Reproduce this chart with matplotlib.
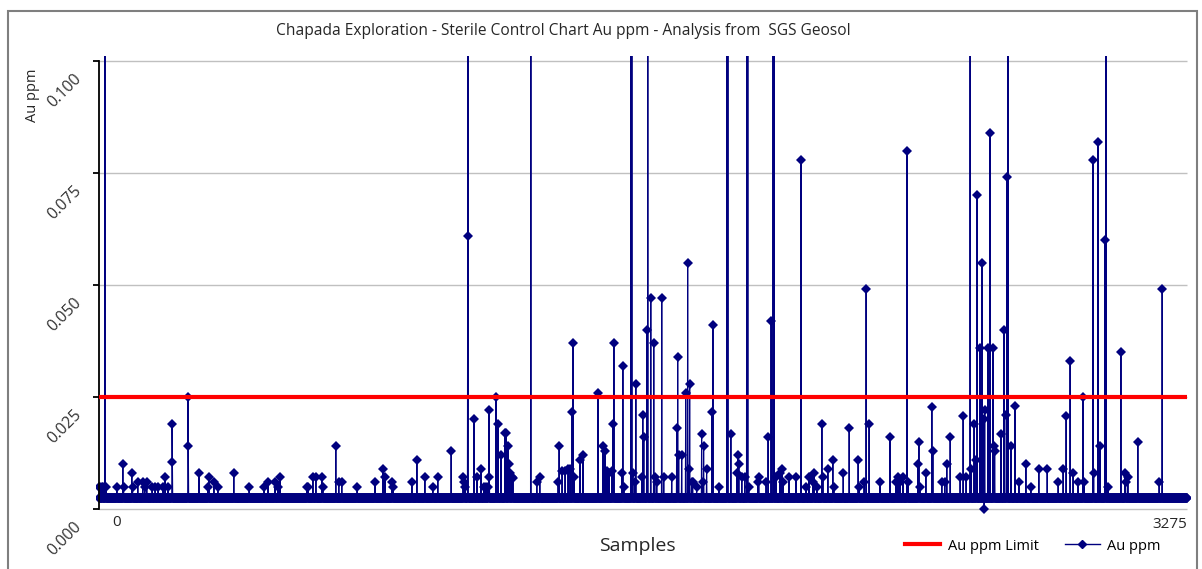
import numpy as np
import matplotlib.pyplot as plt
from matplotlib import transforms
from matplotlib.lines import Line2D
from matplotlib.patches import Rectangle

plt.rcParams['font.family'] = ['Open Sans', 'DejaVu Sans']

# data
n_samples = 3276
base_au = 0.0025          # most blanks sit at this level
limit_au = 0.025          # control limit

spike_idx = [
    1, 4, 8, 12, 18, 22, 54, 72, 74, 99, 101, 117, 132, 138, 144, 160, 169, 178,
    193, 199, 208, 220, 221, 268, 269, 301, 328, 331, 346, 358, 406, 452, 497,
    509, 530, 539, 545, 626, 629, 644, 653, 671, 674, 713, 722, 731, 777, 831,
    855, 861, 882, 885, 942, 957, 981, 1005, 1020, 1060, 1096, 1099, 1102,
    1110, 1111, 1129, 1138, 1150, 1159, 1165, 1171, 1174, 1175, 1195, 1201,
    1210, 1222, 1225, 1231, 1234, 1237, 1243, 1246, 1300, 1318, 1327, 1382,
    1385, 1394, 1403, 1412, 1418, 1424, 1427, 1430, 1448, 1457, 1502, 1517,
    1523, 1529, 1535, 1544, 1547, 1550, 1574, 1577, 1580, 1601, 1604, 1607,
    1613, 1616, 1634, 1637, 1640, 1649, 1652, 1661, 1670, 1673, 1679, 1694,
    1700, 1724, 1739, 1742, 1745, 1754, 1766, 1772, 1775, 1778, 1784, 1787,
    1799, 1814, 1817, 1820, 1829, 1845, 1848, 1866, 1890, 1893, 1902, 1920,
    1923, 1926, 1935, 1944, 1950, 1953, 1956, 1983, 1986, 2008, 2014, 2023,
    2029, 2032, 2038, 2050, 2056, 2059, 2077, 2098, 2113, 2128, 2137, 2149,
    2152, 2161, 2176, 2179, 2194, 2209, 2212, 2240, 2258, 2285, 2288, 2303,
    2309, 2318, 2351, 2381, 2399, 2405, 2411, 2420, 2432, 2435, 2465, 2468,
    2471, 2489, 2507, 2510, 2537, 2546, 2552, 2562, 2592, 2601, 2610, 2622,
    2625, 2634, 2640, 2643, 2652, 2658, 2663, 2664, 2666, 2676, 2682, 2691,
    2694, 2696, 2715, 2724, 2731, 2733, 2736, 2745, 2757, 2769, 2790, 2805,
    2829, 2854, 2887, 2902, 2911, 2923, 2932, 2947, 2962, 2965, 2992, 2994,
    3007, 3013, 3028, 3031, 3037, 3076, 3088, 3090, 3097, 3127, 3191, 3200,
]
spike_au = [
    0.005, 0.005, 0.005, 0.005, 0.15, 0.005, 0.005, 0.010, 0.005, 0.008, 0.005, 0.006, 0.006, 0.005, 0.006, 0.005, 0.005, 0.005,
    0.005, 0.0072, 0.005, 0.019, 0.0105, 0.025, 0.014, 0.008, 0.005, 0.0072, 0.006, 0.005, 0.008, 0.005, 0.005,
    0.006, 0.006, 0.005, 0.0072, 0.005, 0.005, 0.0072, 0.0072, 0.0072, 0.005, 0.014, 0.006, 0.006, 0.005, 0.006,
    0.009, 0.0072, 0.006, 0.005, 0.006, 0.011, 0.0072, 0.005, 0.0072, 0.013, 0.0072, 0.006, 0.005,
    0.061, 0.15, 0.020, 0.0072, 0.009, 0.005, 0.005, 0.005, 0.022, 0.0072, 0.025, 0.019,
    0.012, 0.017, 0.017, 0.014, 0.010, 0.008, 0.0072, 0.007, 0.15, 0.006, 0.0072, 0.006,
    0.014, 0.0085, 0.0085, 0.009, 0.009, 0.0217, 0.037, 0.0072, 0.011, 0.012, 0.026, 0.014,
    0.013, 0.0085, 0.008, 0.0085, 0.019, 0.037, 0.008, 0.032, 0.005, 0.15, 0.15, 0.008,
    0.006, 0.028, 0.0072, 0.021, 0.016, 0.040, 0.15, 0.047, 0.037, 0.0072, 0.006, 0.047,
    0.0072, 0.0072, 0.018, 0.034, 0.012, 0.012, 0.026, 0.055, 0.009, 0.028, 0.006, 0.006,
    0.005, 0.0167, 0.006, 0.014, 0.009, 0.0217, 0.041, 0.005, 0.15, 0.15, 0.0167, 0.008,
    0.012, 0.010, 0.0072, 0.0072, 0.15, 0.15, 0.005, 0.006, 0.0072, 0.006, 0.016, 0.042,
    0.15, 0.15, 0.0072, 0.008, 0.009, 0.006, 0.0072, 0.0072, 0.078, 0.005, 0.0072, 0.006,
    0.008, 0.005, 0.019, 0.0072, 0.009, 0.011, 0.005, 0.008, 0.018, 0.011, 0.005, 0.006,
    0.049, 0.019, 0.006, 0.016, 0.006, 0.0072, 0.006, 0.0072, 0.080, 0.006, 0.010, 0.015,
    0.005, 0.008, 0.0228, 0.013, 0.006, 0.006, 0.010, 0.016, 0.0072, 0.0208, 0.0072, 0.15,
    0.009, 0.019, 0.011, 0.070, 0.036, 0.055, 0.020, 0.0, 0.022, 0.036, 0.084, 0.036,
    0.014, 0.013, 0.0167, 0.040, 0.021, 0.074, 0.15, 0.014, 0.023, 0.006, 0.010, 0.005,
    0.009, 0.009, 0.006, 0.009, 0.0208, 0.033, 0.008, 0.006, 0.025, 0.006, 0.078, 0.008,
    0.082, 0.014, 0.060, 0.15, 0.005, 0.035, 0.008, 0.006, 0.0072, 0.015, 0.006, 0.049,
]
y_ticks = [0.000, 0.025, 0.050, 0.075, 0.100]

samples = np.arange(n_samples)
au = np.full(n_samples, base_au)
au[spike_idx] = spike_au

W, H = 1202, 569
fig = plt.figure(figsize=(W / 100, H / 100), dpi=100)
ax = fig.add_axes([96.3 / W, 1 - 512.6 / H, 1093.4 / W, 457.0 / H])

navy = '#00007f'
ax.hlines(y_ticks, 0, n_samples - 1, color='#c0c0c0', lw=1.0, zorder=1)
ax.plot(samples, au, '-', color=navy, lw=0.8, marker='D', markersize=4.8,
        markeredgewidth=0, zorder=2)
ax.hlines(limit_au, 0, n_samples - 1, color='#ff0000', lw=3.0, zorder=3)

ax.set_xlim(-8, 3283)
ax.set_ylim(-0.0008, 0.1012)

for s in ['top', 'right', 'bottom']:
    ax.spines[s].set_visible(False)
ax.spines['left'].set_position(('data', 0))
ax.spines['left'].set_bounds(0, 0.1)
ax.spines['left'].set_linewidth(1.3)
ax.set_xticks([])
ax.set_yticks(y_ticks)
ax.set_yticklabels([])
ax.tick_params(axis='y', direction='out', length=4.5, width=1.3, color='black')

# rotated y tick labels, shifted below their ticks as in the original
lab_tr = transforms.blended_transform_factory(ax.transAxes, ax.transData) + \
    transforms.ScaledTranslation(0, -0.30, fig.dpi_scale_trans)
for v in y_ticks:
    ax.text(-0.0286, v, f'{v:.3f}', transform=lab_tr, rotation=45,
            ha='center', va='center', fontsize=11.5, color='#333333')

fig.text(117 / W, 1 - 523 / H, '0', ha='center', va='center', fontsize=11, color='#262626')
fig.text(1187 / W, 1 - 524 / H, '3275', ha='right', va='center', fontsize=11, color='#262626')
fig.text(637 / W, 1 - 546 / H, 'Samples', ha='center', va='center', fontsize=14, color='#262626')
fig.text(33 / W, 1 - 95 / H, 'Au ppm', rotation=90, ha='center', va='center', fontsize=10.5, color='#262626')
fig.text(563 / W, 1 - 31 / H,
         'Chapada Exploration - Sterile Control Chart Au ppm - Analysis from  SGS Geosol',
         ha='center', va='center', fontsize=11.2, color='#262626')

handles = [Line2D([], [], color='#ff0000', lw=3.0),
           Line2D([], [], color=navy, lw=1.0, marker='D', markersize=4)]
fig.legend(handles, ['Au ppm Limit', 'Au ppm'], loc='center',
           bbox_to_anchor=(1033 / W, 1 - 546 / H), ncol=2, frameon=False,
           fontsize=10.5, handlelength=2.4, columnspacing=1.8, handletextpad=0.5)

fig.add_artist(Rectangle((8 / W, -0.05), (1197 - 8) / W, 1.05 - 11 / H,
                         transform=fig.transFigure, fill=False,
                         edgecolor='#7f7f7f', lw=1.5))

fig.savefig('out.png', dpi=100)
